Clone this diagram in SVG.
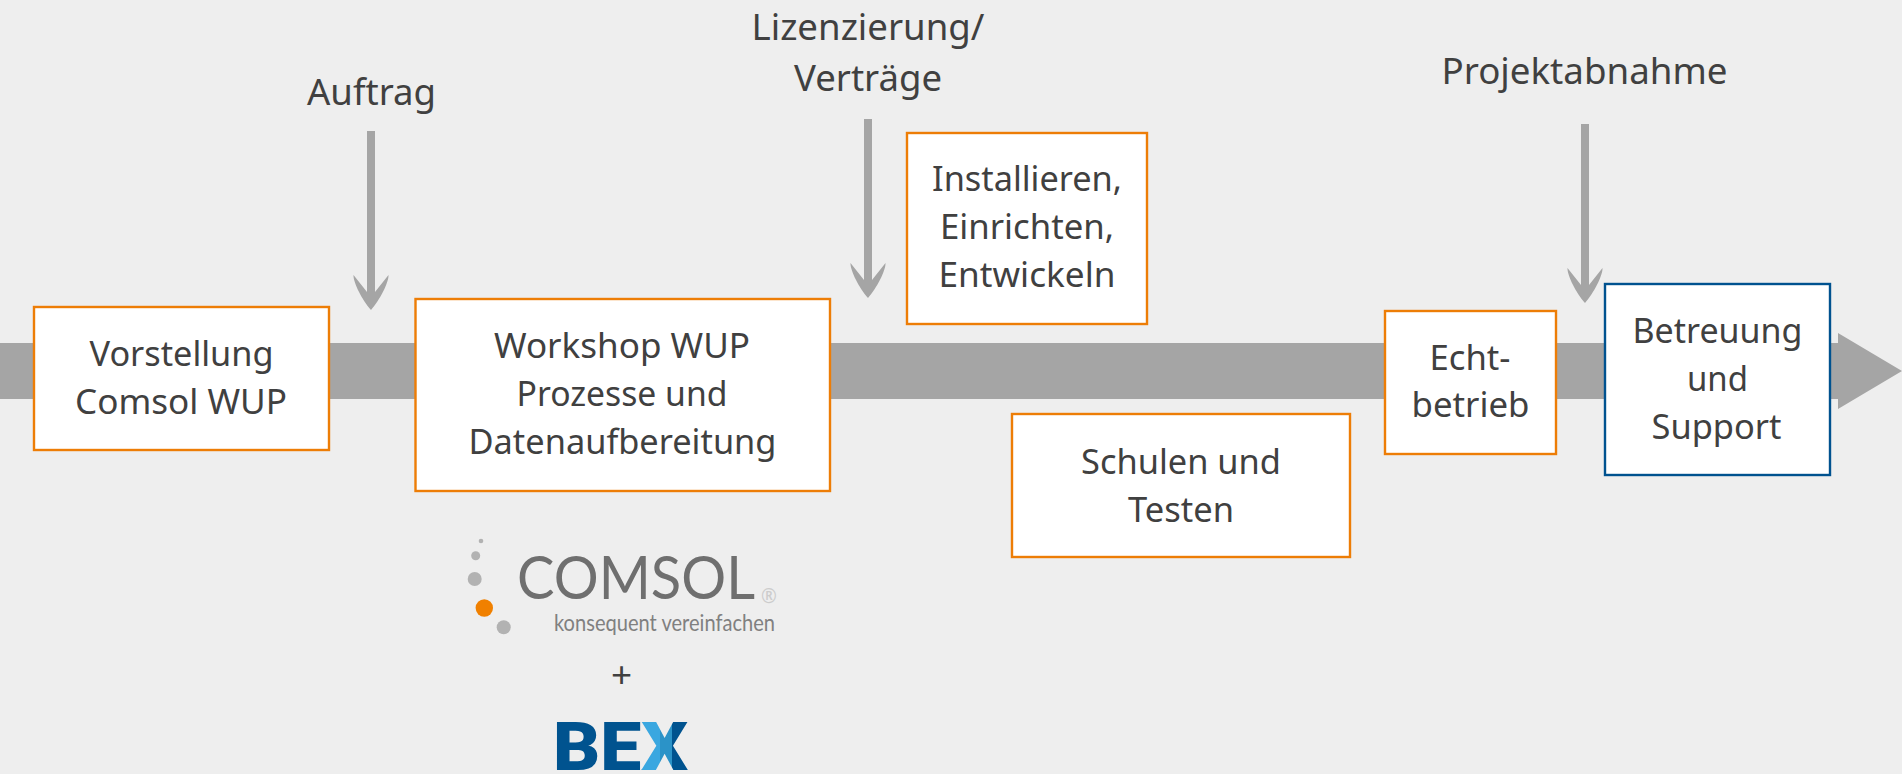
<svg xmlns="http://www.w3.org/2000/svg" width="1902" height="774" viewBox="0 0 1902 774">
<style>
.n{fill:#fff;stroke:#ed7d06;stroke-width:2.4}
.b{fill:#fff;stroke:#00528f;stroke-width:2.4}
text{font-family:"Noto Sans","Open Sans",sans-serif;font-size:35px;fill:#404040;text-anchor:middle}
.l{font-size:36.500px}
.bar{fill:#a5a5a5}
.d{fill:#b2b2b2}
</style>
<defs>
<linearGradient id="x" gradientUnits="userSpaceOnUse" x1="556" y1="0" x2="688" y2="0"><stop offset="0.655" stop-color="#00538f"/><stop offset="0.655" stop-color="#3aa7e0"/><stop offset="0.79" stop-color="#3aa7e0"/><stop offset="0.79" stop-color="#2b93c8"/><stop offset="0.88" stop-color="#2b93c8"/><stop offset="0.88" stop-color="#00538f"/></linearGradient>
</defs>
<rect width="1902" height="774" fill="#eeeeee"/>
<g id="timeline"><path class="bar" d="M0 343H1838V333L1902 371L1838 409V399H0Z"/></g>
<g id="connectors">
<path class="bar" d="M367 131H375V292L388.500 275C389 282 380 300 371 310C362 300 353 282 353.500 275L367 292Z"/>
<path class="bar" d="M864 119H872V280L885.500 263C886 270 877 288 868 298C859 288 850 270 850.500 263L864 280Z"/>
<path class="bar" d="M1581 124H1589V285L1602.500 268C1603 275 1594 293 1585 303C1576 293 1567 275 1567.500 268L1581 285Z"/>
</g>
<g id="label-auftrag"><text class="l" x="371.500" y="105" textLength="129" lengthAdjust="spacingAndGlyphs">Auftrag</text></g>
<g id="label-lizenz"><text class="l" x="868" y="40" textLength="233" lengthAdjust="spacingAndGlyphs">Lizenzierung/</text><text class="l" x="868" y="91" textLength="148" lengthAdjust="spacingAndGlyphs">Verträge</text></g>
<g id="label-abnahme"><text class="l" x="1584.500" y="84" textLength="286" lengthAdjust="spacingAndGlyphs">Projektabnahme</text></g>
<g id="vorstellung"><rect class="n" x="34" y="307" width="295" height="143"/><text x="181.500" y="366" textLength="184" lengthAdjust="spacingAndGlyphs">Vorstellung</text><text x="181" y="414" textLength="212" lengthAdjust="spacingAndGlyphs">Comsol WUP</text></g>
<g id="workshop"><rect class="n" x="415.500" y="299" width="414.500" height="192"/><text x="622" y="358" textLength="256" lengthAdjust="spacingAndGlyphs">Workshop WUP</text><text x="622" y="406" textLength="211" lengthAdjust="spacingAndGlyphs">Prozesse und</text><text x="622.500" y="454" textLength="308" lengthAdjust="spacingAndGlyphs">Datenaufbereitung</text></g>
<g id="installieren"><rect class="n" x="907" y="133" width="240" height="191"/><text x="1027" y="191" textLength="190" lengthAdjust="spacingAndGlyphs">Installieren,</text><text x="1027" y="239" textLength="174" lengthAdjust="spacingAndGlyphs">Einrichten,</text><text x="1027" y="287" textLength="177" lengthAdjust="spacingAndGlyphs">Entwickeln</text></g>
<g id="schulen"><rect class="n" x="1012" y="414" width="338" height="143"/><text x="1181" y="474" textLength="200" lengthAdjust="spacingAndGlyphs">Schulen und</text><text x="1181" y="522" textLength="106" lengthAdjust="spacingAndGlyphs">Testen</text></g>
<g id="echtbetrieb"><rect class="n" x="1385" y="311" width="171" height="143"/><text x="1470" y="370" textLength="81" lengthAdjust="spacingAndGlyphs">Echt-</text><text x="1470.500" y="417" textLength="118" lengthAdjust="spacingAndGlyphs">betrieb</text></g>
<g id="betreuung"><rect class="b" x="1605" y="284" width="225" height="191"/><text x="1717.500" y="343" textLength="170" lengthAdjust="spacingAndGlyphs">Betreuung</text><text x="1717.500" y="391" textLength="61" lengthAdjust="spacingAndGlyphs">und</text><text x="1716.500" y="439" textLength="130" lengthAdjust="spacingAndGlyphs">Support</text></g>
<g id="comsol-logo">
<circle class="d" cx="481" cy="541" r="2.300"/><circle class="d" cx="475.700" cy="555.700" r="4.500"/><circle class="d" cx="474.700" cy="579" r="7"/><circle cx="484.300" cy="608" r="8.700" fill="#f08000"/><circle class="d" cx="503.700" cy="627.300" r="7"/>
<text x="517" y="599" style="font-family:'Lato',sans-serif;font-size:60px;fill:#6f6f6f;text-anchor:start" textLength="238" lengthAdjust="spacingAndGlyphs">COMSOL</text>
<text x="769" y="603" style="font-size:19px;fill:#cccccc">®</text>
<text x="554" y="631" style="font-family:'Lato',sans-serif;font-size:24px;fill:#808080;text-anchor:start" textLength="221" lengthAdjust="spacingAndGlyphs">konsequent vereinfachen</text>
</g>
<g id="plus"><text x="621.500" y="688" style="font-size:37px">+</text></g>
<g id="bex-logo"><text x="553" y="770" style="font-family:'Roboto',sans-serif;font-weight:900;font-size:67px;fill:url(#x);text-anchor:start" textLength="135" lengthAdjust="spacingAndGlyphs">BEX</text></g>
</svg>
